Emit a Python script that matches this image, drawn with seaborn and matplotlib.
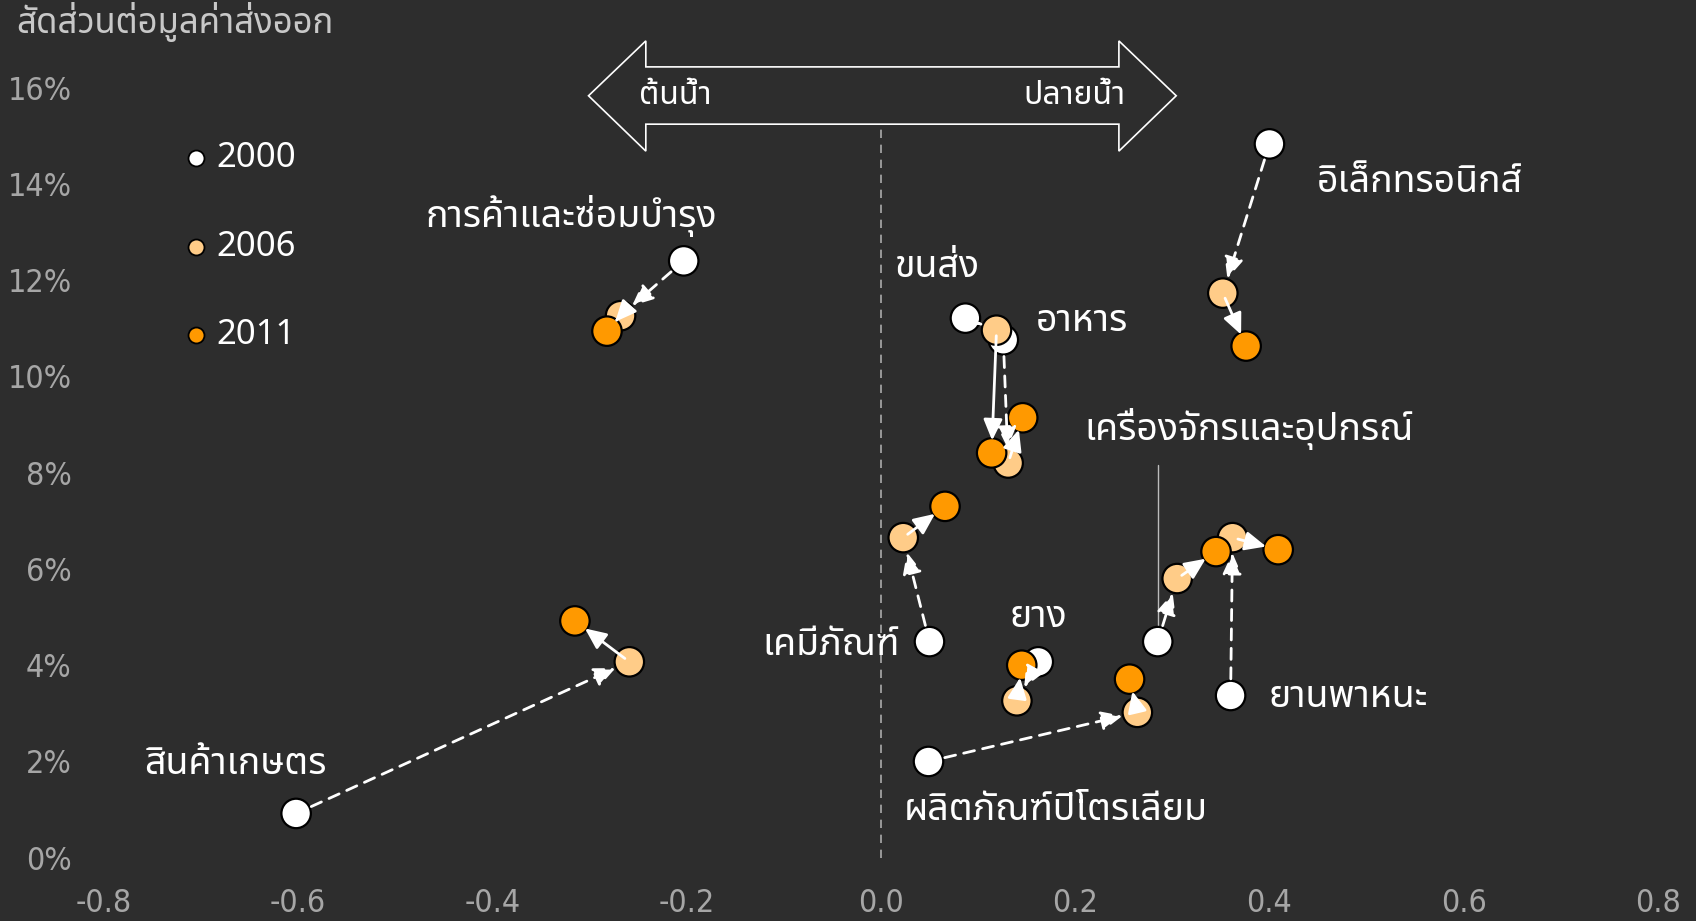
import numpy as np
import pandas as pd
import matplotlib
matplotlib.use("Agg")
import matplotlib.pyplot as plt
import seaborn as sns
from matplotlib import font_manager
from matplotlib.ft2font import FT2Font
from matplotlib.patches import Polygon

# data: x = position in value chain, y = share of export value (%)
sectors = ['สินค้าเกษตร', 'การค้าและซ่อมบำรุง', 'ขนส่ง', 'อาหาร', 'เคมีภัณฑ์', 'ยาง',
           'ผลิตภัณฑ์ปิโตรเลียม', 'เครื่องจักรและอุปกรณ์', 'ยานพาหนะ', 'อิเล็กทรอนิกส์']
x_2000 = [-0.602, -0.203, 0.087, 0.126, 0.050, 0.162, 0.049, 0.285, 0.360, 0.400]
y_2000 = [0.92, 12.40, 11.21, 10.76, 4.49, 4.07, 2.00, 4.49, 3.37, 14.83]
x_2006 = [-0.259, -0.268, 0.119, 0.131, 0.023, 0.140, 0.264, 0.305, 0.362, 0.352]
y_2006 = [4.07, 11.26, 10.96, 8.20, 6.65, 3.26, 3.02, 5.80, 6.65, 11.73]
x_2011 = [-0.315, -0.282, 0.114, 0.146, 0.066, 0.145, 0.256, 0.345, 0.409, 0.376]
y_2011 = [4.92, 10.94, 8.41, 9.14, 7.30, 4.00, 3.71, 6.36, 6.40, 10.63]
years = ['2000', '2006', '2011']
y_ticks = [0, 2, 4, 6, 8, 10, 12, 14, 16]
x_ticks = [-0.8, -0.6, -0.4, -0.2, 0.0, 0.2, 0.4, 0.6, 0.8]

ylabel = 'สัดส่วนต่อมูลค่าส่งออก'
upstream = 'ต้นน้ำ'
downstream = 'ปลายน้ำ'

# label positions (data coords)
label_pos = {
    'สินค้าเกษตร': (-0.665, 1.95),
    'การค้าและซ่อมบำรุง': (-0.319, 13.33),
    'ขนส่ง': (0.058, 12.28),
    'อาหาร': (0.207, 11.16),
    'เคมีภัณฑ์': (-0.051, 4.42),
    'ยาง': (0.162, 5.00),
    'ผลิตภัณฑ์ปิโตรเลียม': (0.180, 0.99),
    'เครื่องจักรและอุปกรณ์': (0.379, 8.91),
    'ยานพาหนะ': (0.481, 3.34),
    'อิเล็กทรอนิกส์': (0.555, 14.04),
}


def find_thai_font():
    prefer = ['Noto Sans Thai', 'Kanit', 'Prompt', 'Noto Sans Thai Looped', 'Sarabun',
              'Loma', 'Garuda', 'Norasi', 'Tlwg Typo']
    found = []
    for f in font_manager.fontManager.ttflist:
        try:
            cm = FT2Font(f.fname).get_charmap()
        except Exception:
            continue
        if 0x0E01 in cm:
            found.append(f.name)
    for p in prefer:
        if p in found:
            return p
    return found[0] if found else 'DejaVu Sans'


thai = find_thai_font()

bg = '#2d2d2d'
sns.set_style('dark', {'axes.facecolor': bg, 'figure.facecolor': bg})
plt.rcParams['font.family'] = [thai, 'DejaVu Sans']

df = pd.DataFrame({
    'sector': sectors * 3,
    'year': np.repeat(years, len(sectors)),
    'x': x_2000 + x_2006 + x_2011,
    'y': y_2000 + y_2006 + y_2011,
})
palette = {'2000': '#ffffff', '2006': '#ffcc88', '2011': '#ff9900'}

fig = plt.figure(figsize=(16.96, 9.21), dpi=100)
ax = fig.add_axes([0.0612, 0.0687, 0.9164, 0.9146])

sns.scatterplot(data=df, x='x', y='y', hue='year', palette=palette, s=450,
                edgecolor='black', linewidth=1.6, legend=False, ax=ax, zorder=3)

# arrows 2000 -> 2006 dashed, 2006 -> 2011 solid
for i in range(len(sectors)):
    ax.annotate('', xy=(x_2006[i], y_2006[i]), xytext=(x_2000[i], y_2000[i]),
                arrowprops=dict(arrowstyle='-|>,head_length=0.8,head_width=0.36',
                                color='white', lw=2, linestyle=(0, (4, 3)),
                                shrinkA=12, shrinkB=11, mutation_scale=16),
                zorder=4)
    ax.annotate('', xy=(x_2011[i], y_2011[i]), xytext=(x_2006[i], y_2006[i]),
                arrowprops=dict(arrowstyle='-|>,head_length=0.8,head_width=0.36',
                                color='white', lw=2, shrinkA=4, shrinkB=9,
                                mutation_scale=16),
                zorder=4)

for name, (lx, ly) in label_pos.items():
    ax.text(lx, ly, name, color='white', fontsize=27, ha='center', va='center', zorder=5)

# leader line for machinery
ax.plot([0.285, 0.285], [4.8, 8.16], color='#bbbbbb', lw=1, zorder=2)

# dashed zero line
ax.plot([0, 0], [0, 15.24], color='#aaaaaa', lw=1.2, linestyle=(0, (5, 4)), zorder=1)

# double arrow upstream / downstream
verts = [(-0.301, 15.83), (-0.242, 16.97), (-0.242, 16.43), (0.245, 16.43), (0.245, 16.97),
         (0.304, 15.83), (0.245, 14.68), (0.245, 15.24), (-0.242, 15.24), (-0.242, 14.68)]
ax.add_patch(Polygon(verts, closed=True, facecolor=bg, edgecolor='white', lw=1.2,
                     clip_on=False, zorder=2))
ax.text(-0.249, 15.83, upstream, color='white', fontsize=23, ha='left', va='center')
ax.text(0.252, 15.83, downstream, color='white', fontsize=23, ha='right', va='center')

# legend
leg_y = [14.54, 12.69, 10.86]
for yr, ly in zip(years, leg_y):
    ax.plot([-0.705], [ly], marker='o', ms=11.5, mfc=palette[yr], mec='black', mew=1.3,
            linestyle='none', zorder=5)
    ax.text(-0.684, ly, yr, color='white', fontsize=25, ha='left', va='center')

ax.set_xlim(-0.8, 0.8)
ax.set_ylim(0, 17.5)
ax.set_xticks(x_ticks)
ax.set_xticklabels([f'{v:.1f}' for v in x_ticks])
ax.set_yticks(y_ticks)
ax.set_yticklabels([f'{v}%' for v in y_ticks])
for lab in ax.get_xticklabels() + ax.get_yticklabels():
    lab.set_family(['DejaVu Sans'])
    lab.set_fontstretch('condensed')
    lab.set_fontsize(23)
    lab.set_color('#a6a6a6')
ax.tick_params(axis='x', length=0, pad=22)
ax.tick_params(axis='y', length=0, pad=23)
ax.grid(False)
for sp in ax.spines.values():
    sp.set_visible(False)
ax.set_xlabel('')
ax.set_ylabel('')

fig.text(0.0094, 0.976, ylabel, color='#c8c8c8', fontsize=25, ha='left', va='center')

fig.savefig('out.png', dpi=100, facecolor=bg)
